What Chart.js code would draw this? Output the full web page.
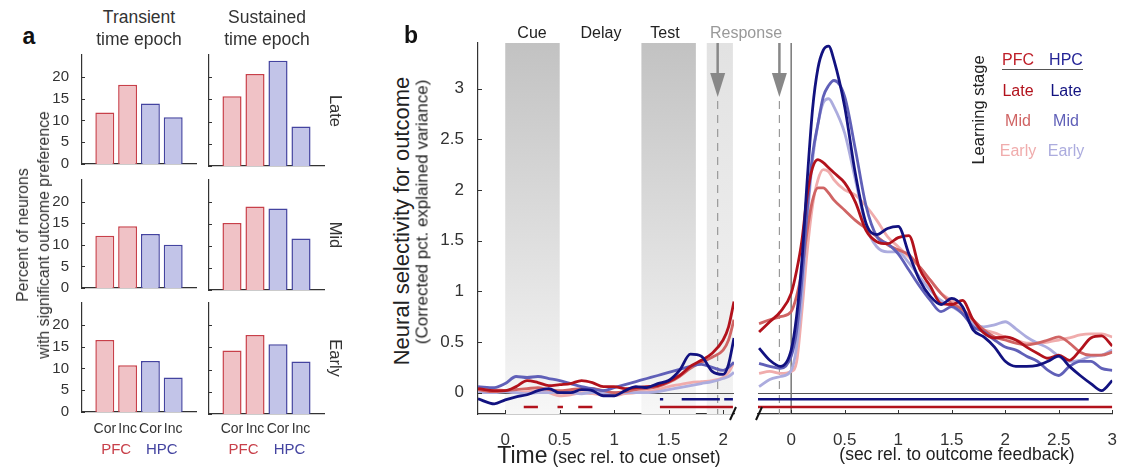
<!DOCTYPE html>
<html>
<head>
<meta charset="utf-8">
<script src="https://cdn.jsdelivr.net/npm/chart.js@4"></script>
<style>
body { margin:0; width:1123px; height:468px; background:#fff; position:relative; overflow:hidden;
       font-family:"Liberation Sans", Arial, sans-serif; color:#222; }
canvas { position:absolute; }
.t { position:absolute; white-space:nowrap; line-height:1; transform:translate(-50%,-50%); }
</style>
</head>
<body>
<script>
// ---- panel a data (percent of neurons) ----
const barLabels = ['', 'Cor', 'Inc', 'Cor', 'Inc', ''];
const transientLate = [11.8, 18.2, 13.9, 10.7];
const sustainedLate = [15.7, 20.7, 23.7, 8.9];
const transientMid = [12.1, 14.3, 12.5, 10.0];
const sustainedMid = [15.2, 19.0, 18.5, 11.7];
const transientEarly = [16.5, 10.7, 11.7, 7.9];
const sustainedEarly = [14.3, 17.8, 15.7, 11.8];
const barTicks = [0, 5, 10, 15, 20];

// ---- panel b data (cue aligned) ----
const cueTime = [-0.25,-0.1,0,0.1,0.2,0.3,0.4,0.5,0.6,0.7,0.8,0.9,1.0,1.1,1.2,1.3,1.4,1.5,1.6,1.7,1.8,1.9,2.0,2.05,2.1];
const pfcLateCue  = [0.04,0.02,0.02,0.06,0.12,0.10,0.07,0.08,0.09,0.12,0.10,0.06,0.06,0.04,0.05,0.06,0.07,0.11,0.17,0.26,0.32,0.39,0.52,0.65,0.90];
const pfcMidCue   = [0.03,0.01,0.02,0.03,0.04,0.05,0.03,0.02,0.03,0.04,0.04,0.02,0.00,0.01,0.03,0.04,0.06,0.10,0.16,0.24,0.30,0.35,0.42,0.52,0.72];
const pfcEarlyCue = [0.02,0.03,0.02,0.00,0.01,0.02,0.00,-0.03,-0.02,0.00,-0.01,-0.02,-0.03,-0.01,0.00,0.01,0.03,0.06,0.08,0.10,0.11,0.12,0.15,0.20,0.30];
const hpcLateCue  = [-0.06,-0.11,-0.07,-0.04,-0.02,0.02,0.04,0.00,0.00,0.03,0.02,-0.03,-0.03,0.02,0.06,0.05,0.09,0.12,0.22,0.38,0.36,0.21,0.18,0.28,0.54];
const hpcMidCue   = [0.06,0.05,0.09,0.16,0.15,0.16,0.14,0.12,0.09,0.06,0.04,0.02,0.05,0.08,0.11,0.14,0.17,0.20,0.23,0.26,0.28,0.25,0.22,0.25,0.30];
const hpcEarlyCue = [0.00,0.00,0.01,0.00,-0.01,0.00,0.00,0.01,0.00,-0.01,0.00,0.00,0.00,0.00,0.00,0.00,0.01,0.03,0.05,0.07,0.09,0.11,0.14,0.16,0.20];
const pfcSigCue = [[0.17,0.30],[0.48,0.53],[0.67,0.80],[1.42,2.09]];
const hpcSigCue = [[1.42,1.45],[1.62,1.97],[2.01,2.09]];

// ---- panel b data (outcome aligned) ----
const outTime = [-0.3,-0.2,-0.1,0,0.05,0.1,0.15,0.2,0.25,0.3,0.35,0.4,0.5,0.6,0.7,0.8,0.9,1.0,1.1,1.2,1.3,1.4,1.5,1.6,1.7,1.8,1.9,2.0,2.1,2.2,2.3,2.4,2.5,2.6,2.7,2.8,2.9,3.0];
const pfcLateOut  = [0.60,0.70,0.80,0.98,1.20,1.50,1.95,2.22,2.30,2.27,2.22,2.17,2.07,1.88,1.60,1.49,1.47,1.53,1.55,1.22,1.05,0.88,0.87,0.91,0.72,0.59,0.54,0.55,0.52,0.45,0.39,0.34,0.37,0.32,0.42,0.54,0.56,0.46];
const pfcMidOut   = [0.68,0.72,0.75,0.80,0.95,1.20,1.60,1.90,2.02,2.02,1.97,1.90,1.80,1.70,1.62,1.54,1.46,1.41,1.36,1.24,1.11,0.98,0.88,0.82,0.72,0.62,0.55,0.52,0.49,0.47,0.49,0.52,0.55,0.49,0.40,0.37,0.37,0.40];
const pfcEarlyOut = [0.19,0.21,0.19,0.21,0.30,0.80,1.40,1.85,2.10,2.20,2.18,2.10,2.00,1.95,1.84,1.70,1.54,1.44,1.34,1.24,1.11,0.98,0.91,0.82,0.68,0.62,0.59,0.55,0.52,0.49,0.49,0.50,0.52,0.54,0.57,0.58,0.58,0.55];
const hpcLateOut  = [0.44,0.32,0.26,0.42,0.75,1.30,2.10,2.80,3.20,3.38,3.42,3.28,2.82,2.16,1.67,1.56,1.62,1.64,1.37,1.11,0.95,0.87,0.93,0.85,0.62,0.55,0.45,0.31,0.26,0.26,0.27,0.31,0.36,0.26,0.17,0.09,0.02,0.12];
const hpcMidOut   = [0.29,0.26,0.24,0.36,0.60,1.11,1.80,2.35,2.65,2.92,3.03,3.08,2.92,2.40,1.84,1.54,1.47,1.37,1.21,1.05,0.91,0.80,0.85,0.78,0.65,0.60,0.52,0.45,0.42,0.36,0.31,0.22,0.17,0.26,0.31,0.31,0.24,0.22];
const hpcEarlyOut = [0.06,0.13,0.16,0.22,0.45,0.95,1.70,2.30,2.65,2.86,2.90,2.82,2.56,2.10,1.64,1.44,1.39,1.39,1.28,1.14,1.01,0.91,0.85,0.78,0.68,0.65,0.67,0.70,0.63,0.55,0.49,0.44,0.36,0.31,0.32,0.36,0.37,0.42];
const pfcSigOut = [[-0.31,3.0]];
const hpcSigOut = [[-0.31,2.78]];

const yTicksB = [0, 0.5, 1, 1.5, 2, 2.5, 3];
const cueTicks = [0, 0.5, 1, 1.5, 2];
const outTicks = [0, 0.5, 1, 1.5, 2, 2.5, 3];

// colours
const pfcFill = 'rgb(240,194,198)', pfcEdge = 'rgb(200,64,74)';
const hpcFill = 'rgb(194,196,232)', hpcEdge = 'rgb(68,68,160)';
const pfcCols = ['rgb(178,18,28)', 'rgb(208,100,100)', 'rgb(240,172,172)'];
const hpcCols = ['rgb(18,18,128)', 'rgb(96,96,184)', 'rgb(172,172,222)'];

Chart.defaults.font.family = '"Liberation Sans", Arial, sans-serif';
Chart.defaults.color = '#333';

function text(str, x, y, size, color, extra) {
    let d = document.createElement('div');
    d.className = 't';
    d.innerHTML = str;
    d.style.left = x + 'px';
    d.style.top = y + 'px';
    d.style.fontSize = size + 'px';
    d.style.color = color || '#222';
    if (extra) Object.assign(d.style, extra);
    document.body.appendChild(d);
    return d;
}

function makeCanvas(left, top, w, h) {
    let c = document.createElement('canvas');
    c.width = w; c.height = h;
    c.style.left = left + 'px';
    c.style.top = top + 'px';
    document.body.appendChild(c);
    return c;
}

// small tick marks pointing into the plot
const innerTicks = {
    id: 'innerTicks',
    afterDraw(chart, args, o) {
        if (!o.on) return;
        const ctx = chart.ctx, a = chart.chartArea;
        ctx.save();
        ctx.strokeStyle = '#333';
        ctx.lineWidth = 1;
        if (o.y) chart.scales.y.ticks.forEach(t => {
            let p = Math.round(chart.scales.y.getPixelForValue(t.value)) + 0.5;
            ctx.beginPath(); ctx.moveTo(a.left, p); ctx.lineTo(a.left + o.len, p); ctx.stroke();
        });
        if (o.x) chart.scales.x.ticks.forEach(t => {
            let p = Math.round(chart.scales.x.getPixelForValue(t.value)) + 0.5;
            ctx.beginPath(); ctx.moveTo(p, a.bottom); ctx.lineTo(p, a.bottom - o.len); ctx.stroke();
        });
        ctx.restore();
    }
};

// epoch shading, zero line, response markers, axis break
const decor = {
    id: 'decor',
    beforeDatasetsDraw(chart, args, o) {
        if (!o.on) return;
        const {ctx, chartArea: a, scales: {x, y}} = chart;
        ctx.save();
        (o.shades || []).forEach(s => {
            let x0 = x.getPixelForValue(s[0]), x1 = x.getPixelForValue(s[1]);
            let g = ctx.createLinearGradient(0, a.top, 0, a.bottom);
            g.addColorStop(0, s[2]);
            g.addColorStop(1, s[3]);
            ctx.fillStyle = g;
            ctx.fillRect(x0, a.top, x1 - x0, a.bottom - a.top);
        });
        let y0 = Math.round(y.getPixelForValue(0)) + 0.5;
        ctx.strokeStyle = '#555';
        ctx.lineWidth = 1;
        ctx.beginPath(); ctx.moveTo(a.left, y0); ctx.lineTo(a.right, y0); ctx.stroke();
        if (o.solid != null) {
            let p = x.getPixelForValue(o.solid);
            ctx.strokeStyle = '#777';
            ctx.lineWidth = 1.5;
            ctx.beginPath(); ctx.moveTo(p, a.top); ctx.lineTo(p, a.bottom); ctx.stroke();
        }
        if (o.response != null) {
            let p = x.getPixelForValue(o.response);
            ctx.strokeStyle = '#999';
            ctx.lineWidth = 1.2;
            ctx.setLineDash([8, 6]);
            ctx.beginPath(); ctx.moveTo(p, a.top + 58); ctx.lineTo(p, a.bottom); ctx.stroke();
            ctx.setLineDash([]);
            ctx.strokeStyle = '#888';
            ctx.lineWidth = 2.5;
            ctx.beginPath(); ctx.moveTo(p, a.top); ctx.lineTo(p, a.top + 32); ctx.stroke();
            ctx.fillStyle = '#888';
            ctx.beginPath();
            ctx.moveTo(p - 7.5, a.top + 30); ctx.lineTo(p + 7.5, a.top + 30); ctx.lineTo(p, a.top + 54);
            ctx.closePath(); ctx.fill();
        }
        ctx.restore();
    },
    afterDraw(chart, args, o) {
        if (!o.on || o.brk == null) return;
        const {ctx, chartArea: a} = chart;
        let bx = o.brk === 'right' ? a.right - 1 : a.left + 1;
        ctx.save();
        ctx.strokeStyle = '#111';
        ctx.lineWidth = 2;
        ctx.beginPath(); ctx.moveTo(bx - 3, a.bottom + 6); ctx.lineTo(bx + 3, a.bottom - 7); ctx.stroke();
        ctx.restore();
    }
};

Chart.register(innerTicks, decor);

// ---------------- panel a ----------------
const rowsA = [
    {top: 55, bottom: 166, data: [transientLate, sustainedLate]},
    {top: 180, bottom: 290, data: [transientMid, sustainedMid]},
    {top: 303, bottom: 414, data: [transientEarly, sustainedEarly]}
];
const colsA = [{left: 82, right: 196, yw: 30}, {left: 209, right: 324, yw: 2}];

rowsA.forEach((row, ri) => {
    colsA.forEach((col, ci) => {
        let last = ri === rowsA.length - 1;
        let padTop = 20, padBottom = 12, padRight = 6;
        let h = padTop + (row.bottom - row.top) + padBottom;
        let w = col.yw + (col.right - col.left) + padRight;
        let cv = makeCanvas(col.left - col.yw, row.top - padTop, w, h);
        let vals = [null].concat(row.data[ci], [null]);
        let ch = new Chart(cv, {
            type: 'bar',
            data: {
                labels: barLabels,
                datasets: [{
                    data: vals,
                    backgroundColor: [null, pfcFill, pfcFill, hpcFill, hpcFill, null],
                    borderColor: [null, pfcEdge, pfcEdge, hpcEdge, hpcEdge, null],
                    borderWidth: 1.5,
                    borderSkipped: 'bottom',
                    categoryPercentage: 1,
                    barPercentage: 0.83
                }]
            },
            options: {
                responsive: false,
                animation: false,
                layout: {padding: {top: padTop, right: padRight, bottom: padBottom, left: 0}},
                plugins: {legend: {display: false}, tooltip: {enabled: false},
                          innerTicks: {on: true, y: true, len: 3}},
                scales: {
                    x: {
                        offset: false,
                        grid: {display: false},
                        border: {display: true, color: '#333', width: 1.2},
                        ticks: {display: false},
                        afterFit: s => { s.height = 0; }
                    },
                    y: {
                        min: 0, max: 25,
                        afterBuildTicks: s => { s.ticks = barTicks.map(v => ({value: v})); },
                        grid: {display: false},
                        border: {display: true, color: '#333', width: 1.2},
                        ticks: {display: ci === 0, font: {size: 15}, color: '#333', padding: 5, callback: v => String(v)},
                        afterFit: s => { s.width = col.yw; }
                    }
                }
            }
        });
        if (last) {
            // category names under the bars, placed from the chart's own x scale
            for (let i = 1; i <= 4; i++) {
                let px = col.left - col.yw + ch.scales.x.getPixelForValue(i);
                text(barLabels[i], px, 428, 14, '#333');
            }
            let pfcX = col.left - col.yw + (ch.scales.x.getPixelForValue(1) + ch.scales.x.getPixelForValue(2)) / 2;
            let hpcX = col.left - col.yw + (ch.scales.x.getPixelForValue(3) + ch.scales.x.getPixelForValue(4)) / 2;
            text('PFC', pfcX, 448, 15, pfcEdge);
            text('HPC', hpcX, 448, 15, hpcEdge);
        }
    });
});

// panel a texts
text('a', 29, 36, 23, '#111', {fontWeight: 'bold'});
text('Transient', 139, 18, 17.5, '#333');
text('time epoch', 139, 40, 17.5, '#333');
text('Sustained', 267, 18, 17.5, '#333');
text('time epoch', 267, 40, 17.5, '#333');
text('Percent of neurons<br>with significant outcome preference', 33, 235, 15.8, '#333',
     {transform: 'translate(-50%,-50%) rotate(-90deg)', lineHeight: '21px', textAlign: 'center'});
text('Late', 336, 111, 16.5, '#333', {transform: 'translate(-50%,-50%) rotate(90deg)'});
text('Mid', 336, 235, 16.5, '#333', {transform: 'translate(-50%,-50%) rotate(90deg)'});
text('Early', 336, 358, 16.5, '#333', {transform: 'translate(-50%,-50%) rotate(90deg)'});

// ---------------- panel b ----------------
function series(times, vals, color) {
    return {
        data: times.map((t, i) => ({x: t, y: vals[i]})),
        borderColor: color,
        borderWidth: 2.8,
        pointRadius: 0,
        cubicInterpolationMode: 'monotone',
        fill: false
    };
}
function sigLine(segs, level, color) {
    let d = [];
    segs.forEach(s => { d.push({x: s[0], y: level}, {x: s[1], y: level}, {x: s[1], y: null}); });
    return {data: d, borderColor: color, borderWidth: 2.5, pointRadius: 0, tension: 0, spanGaps: false, fill: false};
}

function lineOptions(xmin, xmax, xticks, showY, padding, decorOpts) {
    return {
        responsive: false,
        animation: false,
        layout: {padding: padding},
        plugins: {
            legend: {display: false}, tooltip: {enabled: false},
            innerTicks: {on: true, x: true, y: showY, len: 4},
            decor: decorOpts
        },
        scales: {
            x: {
                type: 'linear', min: xmin, max: xmax,
                afterBuildTicks: s => { s.ticks = xticks.map(v => ({value: v})); },
                grid: {display: false},
                border: {display: true, color: '#333', width: 1.2},
                ticks: {font: {size: 17}, color: '#333', padding: 8, maxRotation: 0, callback: v => String(v)},
                afterFit: s => { s.height = 39; }
            },
            y: {
                min: -0.21, max: 3.45, display: showY,
                afterBuildTicks: s => { s.ticks = yTicksB.map(v => ({value: v})); },
                grid: {display: false},
                border: {display: true, color: '#333', width: 1.2},
                ticks: {font: {size: 17}, color: '#333', padding: 6, callback: v => String(v)},
                afterFit: s => { s.width = showY ? 60 : 0; }
            }
        }
    };
}

let cvL = makeCanvas(418, 23, 320, 430);
new Chart(cvL, {
    type: 'line',
    data: {
        datasets: [
            series(cueTime, hpcLateCue, hpcCols[0]),
            series(cueTime, pfcLateCue, pfcCols[0]),
            series(cueTime, hpcMidCue, hpcCols[1]),
            series(cueTime, pfcMidCue, pfcCols[1]),
            series(cueTime, hpcEarlyCue, hpcCols[2]),
            series(cueTime, pfcEarlyCue, pfcCols[2]),
            sigLine(hpcSigCue, -0.065, hpcCols[0]),
            sigLine(pfcSigCue, -0.14, pfcCols[0])
        ]
    },
    options: lineOptions(-0.25, 2.1, cueTicks, true, {top: 20, right: 4, left: 0, bottom: 0}, {
        on: true,
        shades: [[0, 0.5, 'rgb(194,194,194)', 'rgb(247,247,247)'],
                 [1.25, 1.75, 'rgb(194,194,194)', 'rgb(247,247,247)'],
                 [1.85, 2.09, 'rgb(226,226,226)', 'rgb(243,243,243)']],
        response: 1.95,
        brk: 'right'
    })
});

let cvR = makeCanvas(750, 23, 375, 430);
new Chart(cvR, {
    type: 'line',
    data: {
        datasets: [
            series(outTime, hpcLateOut, hpcCols[0]),
            series(outTime, pfcLateOut, pfcCols[0]),
            series(outTime, hpcMidOut, hpcCols[1]),
            series(outTime, pfcMidOut, pfcCols[1]),
            series(outTime, hpcEarlyOut, hpcCols[2]),
            series(outTime, pfcEarlyOut, pfcCols[2]),
            sigLine(hpcSigOut, -0.065, hpcCols[0]),
            sigLine(pfcSigOut, -0.14, pfcCols[0])
        ]
    },
    options: lineOptions(-0.31, 3, outTicks, false, {top: 20, right: 7, left: 8, bottom: 0}, {
        on: true,
        solid: 0,
        response: -0.11,
        brk: 'left'
    })
});

// panel b texts
text('b', 411, 35, 23, '#111', {fontWeight: 'bold'});
text('Cue', 532, 33, 16, '#222');
text('Delay', 601, 33, 16, '#222');
text('Test', 665, 33, 16, '#222');
text('Response', 746, 33, 16, '#999');
text('Neural selectivity for outcome', 402, 221, 22, '#222', {transform: 'translate(-50%,-50%) rotate(-90deg)'});
text('(Corrected pct. explained variance)', 422, 212, 17, '#222', {transform: 'translate(-50%,-50%) rotate(-90deg)'});
text('<span style="font-size:23px">Time</span> (sec rel. to cue onset)', 609, 455, 17.5, '#222');
text('(sec rel. to outcome feedback)', 957, 455, 17.5, '#222');

// legend
text('Learning stage', 978, 110, 16.5, '#222', {transform: 'translate(-50%,-50%) rotate(-90deg)'});
text('PFC', 1018, 60, 16, 'rgb(190,30,40)');
text('HPC', 1066, 60, 16, 'rgb(36,36,150)');
let rule = document.createElement('div');
Object.assign(rule.style, {position: 'absolute', left: '1002px', top: '69px', width: '81px', height: '0', borderTop: '1.5px solid #555'});
document.body.appendChild(rule);
['Late', 'Mid', 'Early'].forEach((s, i) => {
    text(s, 1018, 91 + i * 30, 16, pfcCols[i]);
    text(s, 1066, 91 + i * 30, 16, hpcCols[i]);
});
</script>
</body>
</html>
